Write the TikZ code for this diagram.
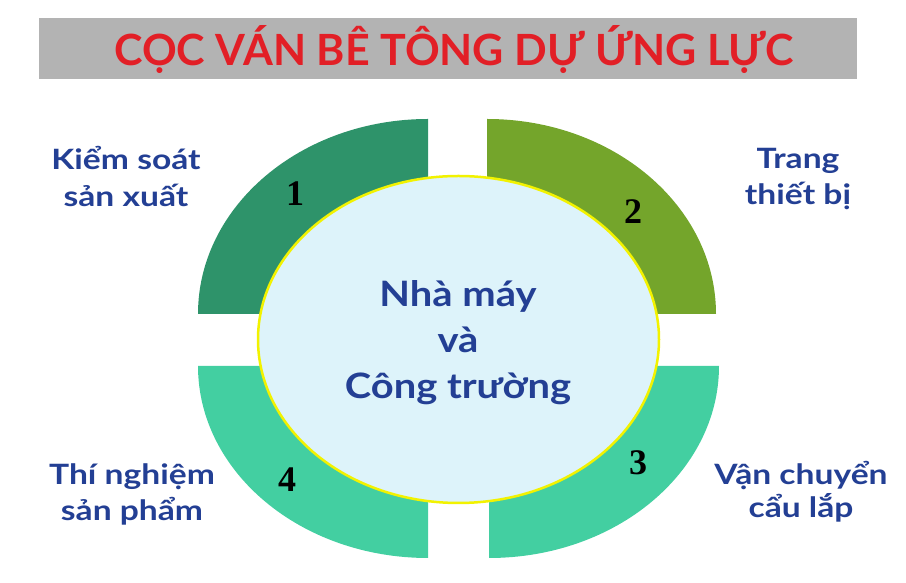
\documentclass[tikz,border=0pt]{standalone}
\usepackage{fontspec}
\setmainfont{Lato}
\newfontfamily\numfont{Liberation Serif}
\newfontfamily\lblfont{Lato}[FakeStretch=1.2]
\newfontfamily\corefont{Lato}[FakeStretch=1.14]
\usetikzlibrary{shapes.geometric}
\definecolor{barGray}{HTML}{B3B3B3}
\definecolor{titleRed}{HTML}{E21F26}
\definecolor{segA}{HTML}{2E936A}
\definecolor{segB}{HTML}{74A52B}
\definecolor{segC}{HTML}{43CFA1}
\definecolor{coreFill}{HTML}{DDF3FA}
\definecolor{coreLine}{HTML}{F2F200}
\definecolor{textBlue}{HTML}{233F94}
\tikzset{
  lbl/.style={font=\lblfont\fontsize{28}{34}\selectfont\bfseries, text=textBlue, inner sep=0pt, anchor=base},
  corelbl/.style={font=\corefont\fontsize{35}{42}\selectfont\bfseries, text=textBlue, inner sep=0pt, anchor=base},
  numlbl/.style={font=\numfont\fontsize{36}{40}\selectfont\bfseries, text=black, inner sep=0pt, anchor=center},
}
\begin{document}
\begin{tikzpicture}[x=1pt,y=1pt]
\useasboundingbox (0,0) rectangle (906,583);
% title bar
\fill[barGray] (39,504) rectangle (857,565);
\node[font=\fontsize{43}{48}\selectfont\bfseries, text=titleRed, inner sep=0pt, anchor=base] (title) at (454,517) {CỌC VÁN BÊ TÔNG DỰ ỨNG LỰC};
% segments
\fill[segA] (428,269) -- (428,464) arc[start angle=90,end angle=180,x radius=230,y radius=195] -- cycle;
\fill[segB] (487,269) -- (716,269) arc[start angle=0,end angle=90,x radius=229,y radius=195] -- cycle;
\fill[segC] (489,217) -- (489,25) arc[start angle=270,end angle=360,x radius=230,y radius=192] -- cycle;
\fill[segC] (428,217) -- (198,217) arc[start angle=180,end angle=270,x radius=230,y radius=192] -- cycle;
% core ellipse
\node[draw=coreLine, line width=2.5pt, fill=coreFill, ellipse, minimum width=401pt, minimum height=327pt, inner sep=0pt] (core) at (458.5,243.5) {};
\node[corelbl] (c1) at (458,276) {Nhà máy};
\node[corelbl] (c2) at (458,230) {và};
\node[corelbl] (c3) at (458,184) {Công trường};
% numbers
\node[numlbl] (n1) at (295,389) {1};
\node[numlbl] (n2) at (633,371) {2};
\node[numlbl] (n3) at (638,120) {3};
\node[numlbl] (n4) at (287,103) {4};
% labels
\node[lbl] (a1) at (126,413.5) {Kiểm soát};
\node[lbl] (a2) at (126,376) {sản xuất};
\node[lbl] (b1) at (798,414) {Trang};
\node[lbl] (b2) at (798,378) {thiết bị};
\node[lbl] (d1) at (801,98) {Vận chuyển};
\node[lbl] (d2) at (801,65) {cẩu lắp};
\node[lbl] (e1) at (132,98) {Thí nghiệm};
\node[lbl] (e2) at (132,62) {sản phẩm};
\end{tikzpicture}
\end{document}
